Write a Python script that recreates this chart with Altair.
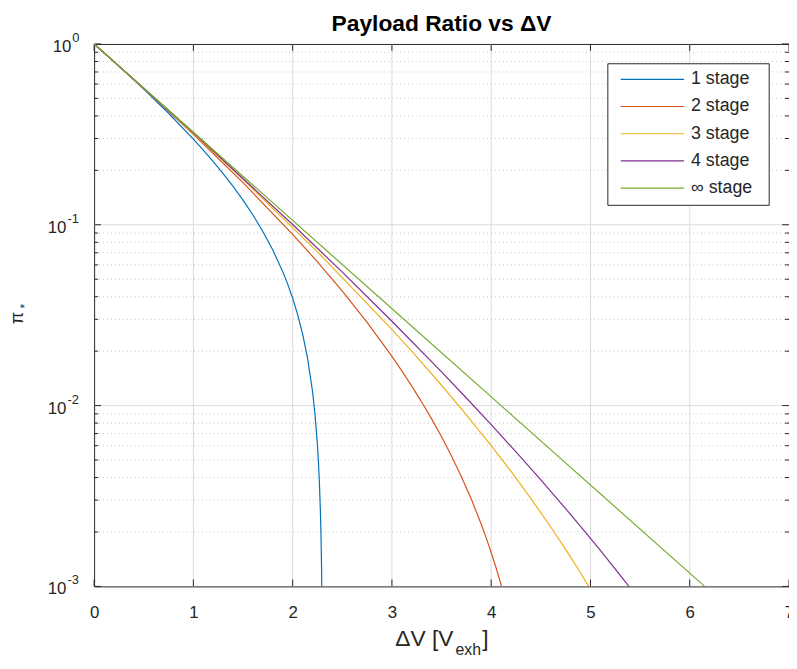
import altair as alt
import pandas as pd

# ---------------- data ----------------
stage1_dv = [0, 0.25, 0.5, 0.75, 1.0, 1.1, 1.2, 1.3, 1.4, 1.5, 1.6, 1.7, 1.8, 1.9, 1.95, 2.0, 2.05, 2.1, 2.15,
             2.2, 2.225, 2.25, 2.26, 2.27, 2.28, 2.285, 2.29, 2.2936]
stage1_pi = [1, 0.7542, 0.5628, 0.4137, 0.2977, 0.2588, 0.2236, 0.1917, 0.1629, 0.1368, 0.1132, 0.09187,
             0.07255, 0.05508, 0.04697, 0.03926, 0.03193, 0.02495, 0.01832, 0.01200, 0.008963, 0.0060,
             0.004833, 0.00368, 0.002538, 0.001971, 0.001407, 0.0010]

stage2_dv = [0, 0.5, 1.0, 1.5, 2.0, 2.25, 2.5, 2.75, 3.0, 3.1, 3.2, 3.3, 3.4, 3.5, 3.6, 3.7, 3.8, 3.9, 3.95,
             4.0, 4.05, 4.1043]
stage2_pi = [1, 0.5688, 0.3167, 0.1711, 0.0886, 0.0623, 0.04295, 0.02884, 0.01871, 0.01556, 0.01282, 0.01046,
             0.00844, 0.006719, 0.005264, 0.004045, 0.003034, 0.002206, 0.001855, 0.001541, 0.001264, 0.0010]

stage3_dv = [0, 0.75, 1.5, 2.25, 3.0, 3.25, 3.5, 3.75, 4.0, 4.2, 4.3, 4.4, 4.5, 4.6, 4.75, 4.8, 4.9, 4.95,
             4.9822]
stage3_pi = [1, 0.4290, 0.1783, 0.07080, 0.02638, 0.01860, 0.01296, 0.008895, 0.006006, 0.004323, 0.003645,
             0.003062, 0.00256, 0.00213, 0.001602, 0.001451, 0.001187, 0.00107, 0.0010]

stage4_dv = [0, 1.0, 2.0, 2.5, 3.0, 3.5, 3.75, 4.0, 4.25, 4.5, 4.75, 4.9, 5.0, 5.1, 5.2, 5.3, 5.3876]
stage4_pi = [1, 0.3236, 0.1003, 0.0547, 0.02929, 0.01536, 0.01102, 0.007855, 0.005545, 0.003887, 0.002691,
             0.002148, 0.001843, 0.00158, 0.00135, 0.001152, 0.0010]

stageinf_dv = [0, 3.075, 6.15]
stageinf_pi = [1, 0.0316, 0.0010]

series_names = ["1 stage", "2 stage", "3 stage", "4 stage", "∞ stage"]
series_colors = ["#0072BD", "#D95319", "#EDB120", "#7E2F8E", "#77AC30"]

x_tick_values = [0, 1, 2, 3, 4, 5, 6, 7]
x_grid_values = [1, 2, 3, 4, 5, 6]
y_decades = [1, 0.1, 0.01, 0.001]
y_exponents = ["0", "-1", "-2", "-3"]
y_minor = [0.002, 0.003, 0.004, 0.005, 0.006, 0.007, 0.008, 0.009,
           0.02, 0.03, 0.04, 0.05, 0.06, 0.07, 0.08, 0.09,
           0.2, 0.3, 0.4, 0.5, 0.6, 0.7, 0.8, 0.9]

title_text = "Payload Ratio vs ΔV"

# ---------------- tables ----------------
frames = []
for name, xs, ys in zip(series_names,
                        [stage1_dv, stage2_dv, stage3_dv, stage4_dv, stageinf_dv],
                        [stage1_pi, stage2_pi, stage3_pi, stage4_pi, stageinf_pi]):
    frames.append(pd.DataFrame({"dv": xs, "pi": ys, "stage": name}))
lines_df = pd.concat(frames, ignore_index=True)

W, H = 702, 548
FONT = "Liberation Sans"
INK = "#262626"

xscale = alt.Scale(domain=[0, 7], nice=False, zero=False)
yscale = alt.Scale(type="log", domain=[0.001, 1], nice=False)
cscale = alt.Scale(domain=series_names, range=series_colors)
xaxis = alt.Axis(values=x_tick_values, ticks=False, tickSize=0, domain=False, grid=False,
                 labelFontSize=17, labelPadding=18, labelColor=INK, labelFont=FONT,
                 title=None, labelFlush=False, format="d", labelOverlap=False)

one = pd.DataFrame({"k": [0]})

# grid
xgrid = alt.Chart(pd.DataFrame({"v": x_grid_values})).mark_rule(color="#dcdcdc", strokeWidth=1).encode(
    x=alt.X("v:Q", scale=xscale, axis=xaxis))
ygrid = alt.Chart(pd.DataFrame({"v": [0.1, 0.01]})).mark_rule(color="#dcdcdc", strokeWidth=1).encode(
    y=alt.Y("v:Q", scale=yscale, axis=None))
yminor = alt.Chart(pd.DataFrame({"v": y_minor})).mark_rule(color="#c4c4c4", strokeWidth=1,
                                                           strokeDash=[1, 3]).encode(
    y=alt.Y("v:Q", scale=yscale, axis=None))

# ticks (inward, MATLAB style)
xt = pd.DataFrame({"v": x_tick_values})
tick_b = alt.Chart(xt).mark_rule(color=INK, strokeWidth=1).encode(
    x=alt.X("v:Q", scale=xscale, axis=xaxis), y=alt.value(H), y2=alt.value(H - 7))
tick_t = alt.Chart(xt).mark_rule(color=INK, strokeWidth=1).encode(
    x=alt.X("v:Q", scale=xscale, axis=xaxis), y=alt.value(0), y2=alt.value(7))
yd = pd.DataFrame({"v": y_decades})
ym = pd.DataFrame({"v": y_minor})
tick_l = alt.Chart(yd).mark_rule(color=INK, strokeWidth=1).encode(
    y=alt.Y("v:Q", scale=yscale, axis=None), x=alt.value(0), x2=alt.value(7))
tick_r = alt.Chart(yd).mark_rule(color=INK, strokeWidth=1).encode(
    y=alt.Y("v:Q", scale=yscale, axis=None), x=alt.value(W), x2=alt.value(W - 7))
mtick_l = alt.Chart(ym).mark_rule(color=INK, strokeWidth=1).encode(
    y=alt.Y("v:Q", scale=yscale, axis=None), x=alt.value(0), x2=alt.value(4))
mtick_r = alt.Chart(ym).mark_rule(color=INK, strokeWidth=1).encode(
    y=alt.Y("v:Q", scale=yscale, axis=None), x=alt.value(W), x2=alt.value(W - 4))

# curves
lines = alt.Chart(lines_df).mark_line(strokeWidth=1.2, clip=True).encode(
    x=alt.X("dv:Q", scale=xscale, axis=xaxis),
    y=alt.Y("pi:Q", scale=yscale, axis=None),
    color=alt.Color("stage:N", scale=cscale, legend=None),
)

# y tick labels 10^k
ylab_df = pd.DataFrame({"v": y_decades, "e": y_exponents})
ylab_base = alt.Chart(ylab_df).transform_calculate(
    xr="datum.e == '0' ? -23 : -28"
).mark_text(text="10", align="right", baseline="middle", dy=3, fontSize=17, font=FONT, color=INK).encode(
    x=alt.X("xr:Q", scale=None, axis=None), y=alt.Y("v:Q", scale=yscale, axis=None))
ylab_exp = alt.Chart(ylab_df).transform_calculate(
    xe="datum.e == '0' ? -22 : -27"
).mark_text(align="left", baseline="middle", dy=-6, fontSize=13, font=FONT, color=INK).encode(
    x=alt.X("xe:Q", scale=None, axis=None), y=alt.Y("v:Q", scale=yscale, axis=None), text="e:N")

# legend (drawn box)
leg_df = pd.DataFrame({"stage": series_names, "i": list(range(len(series_names)))})
leg_box = alt.Chart(one).mark_rect(fill="white", stroke=INK, strokeWidth=1).encode(
    x=alt.value(519), x2=alt.value(682), y=alt.value(20), y2=alt.value(163))
leg_lines = alt.Chart(leg_df).transform_calculate(ly="35.7 + datum.i * 27.5").mark_rule(strokeWidth=1.2).encode(
    x=alt.value(532), x2=alt.value(596), y=alt.Y("ly:Q", scale=None, axis=None),
    color=alt.Color("stage:N", scale=cscale, legend=None))
leg_text = alt.Chart(leg_df).transform_calculate(ly="35.7 + datum.i * 27.5").mark_text(
    align="left", baseline="middle", fontSize=18, font=FONT, color=INK).encode(
    x=alt.value(603), y=alt.Y("ly:Q", scale=None, axis=None), text="stage:N")

# titles
title = alt.Chart(one).mark_text(text=title_text, align="center", baseline="alphabetic", fontSize=23,
                                 fontWeight="bold", font=FONT, color="#000000").encode(
    x=alt.value(W / 2), y=alt.value(-13.5))
xt_main = alt.Chart(one).mark_text(text="ΔV [V", align="right", baseline="alphabetic", fontSize=23,
                                   font=FONT, color=INK).encode(x=alt.value(363), y=alt.value(H + 60))
xt_sub = alt.Chart(one).mark_text(text="exh", align="left", baseline="alphabetic", fontSize=16,
                                  font=FONT, color=INK).encode(x=alt.value(365), y=alt.value(H + 69))
xt_br = alt.Chart(one).mark_text(text="]", align="left", baseline="alphabetic", fontSize=23,
                                 font=FONT, color=INK).encode(x=alt.value(392), y=alt.value(H + 60))
yt_main = alt.Chart(one).mark_text(text="π", angle=270, align="center", baseline="middle", fontSize=18,
                                   font=FONT, color=INK).encode(x=alt.value(-77), y=alt.value(277))
yt_sub = alt.Chart(one).mark_text(text="*", angle=270, align="center", baseline="middle", fontSize=12,
                                  font=FONT, color=INK).encode(x=alt.value(-70), y=alt.value(265))

chart = alt.layer(
    xgrid, ygrid, yminor,
    tick_b, tick_t, tick_l, tick_r, mtick_l, mtick_r,
    lines,
    leg_box, leg_lines, leg_text,
    ylab_base, ylab_exp,
    title, xt_main, xt_sub, xt_br, yt_main, yt_sub,
).properties(
    width=W, height=H,
    autosize=alt.AutoSizeParams(type="none"),
    padding={"left": 87, "top": 33, "right": 0, "bottom": 70},
    background="white",
).configure_view(stroke=INK, strokeWidth=1)

chart.save("out.html", embed_options={"renderer": "svg", "actions": False})
